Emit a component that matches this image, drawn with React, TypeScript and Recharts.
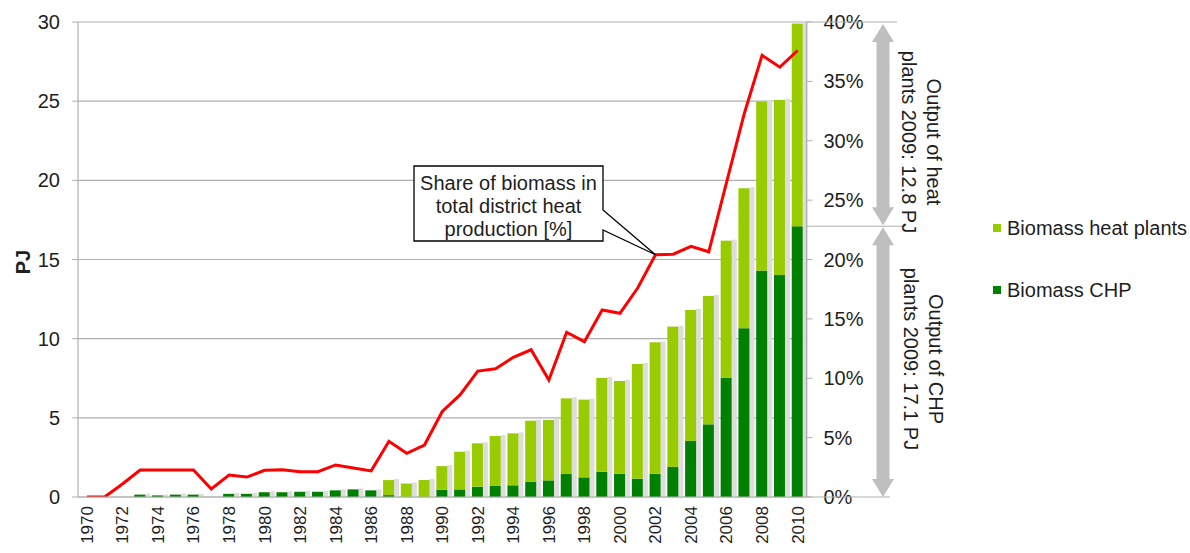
import React from 'react';
import { ComposedChart, Bar, Line, XAxis, YAxis, CartesianGrid } from 'recharts';

const years = [
  1970, 1971, 1972, 1973, 1974, 1975, 1976, 1977, 1978, 1979,
  1980, 1981, 1982, 1983, 1984, 1985, 1986, 1987, 1988, 1989,
  1990, 1991, 1992, 1993, 1994, 1995, 1996, 1997, 1998, 1999,
  2000, 2001, 2002, 2003, 2004, 2005, 2006, 2007, 2008, 2009, 2010,
];

// PJ
const chpOutput = [
  0, 0, 0, 0.15, 0.1, 0.15, 0.15, 0, 0.2, 0.2,
  0.3, 0.3, 0.33, 0.33, 0.42, 0.48, 0.42, 0.12, 0, 0,
  0.45, 0.48, 0.65, 0.7, 0.74, 0.95, 1.05, 1.45, 1.24, 1.6,
  1.47, 1.16, 1.47, 1.9, 3.54, 4.59, 7.54, 10.66, 14.3, 14.02, 17.1,
];

const heatPlantOutput = [
  0, 0, 0, 0, 0, 0, 0, 0, 0, 0,
  0, 0, 0, 0, 0, 0, 0, 0.95, 0.85, 1.07,
  1.5, 2.38, 2.74, 3.15, 3.28, 3.87, 3.81, 4.78, 4.91, 5.92,
  5.86, 7.24, 8.3, 8.86, 8.27, 8.11, 8.65, 8.84, 10.67, 11.06, 12.8,
];

// % of total district heat production
const biomassShare = [
  0, 0, 1.1, 2.27, 2.27, 2.27, 2.27, 0.67, 1.85, 1.68,
  2.25, 2.3, 2.13, 2.13, 2.7, 2.44, 2.2, 4.69, 3.68, 4.38,
  7.2, 8.6, 10.6, 10.8, 11.76, 12.4, 9.85, 13.87, 13.08, 15.75,
  15.47, 17.6, 20.4, 20.45, 21.1, 20.65, 26.5, 32.3, 37.2, 36.2, 37.6,
];

const pjTicks = [0, 5, 10, 15, 20, 25, 30];
const pctTicks = [0, 5, 10, 15, 20, 25, 30, 35, 40];

const data = years.map((y, i) => ({
  year: String(y),
  chp: chpOutput[i],
  heat: heatPlantOutput[i],
  share: biomassShare[i],
}));

const W = 1190;
const H = 553;
const TOP = 22;
const BOTTOM = 497;
const LEFT = 78;
const RIGHT = 806.5;
const RIGHT_AXIS_W = 60;
const FONT = '"Liberation Sans", Arial, sans-serif';
const TXT = '#1e1e1e';
const GRID = '#b0b0b0';

const pjY = (v: number) => BOTTOM - (v / 30) * (BOTTOM - TOP);
const pctY = (v: number) => BOTTOM - (v / 40) * (BOTTOM - TOP);
const catX = (i: number) => LEFT + (i + 0.5) * ((RIGHT - LEFT) / years.length);

const ShadowBar = (props: any) => {
  const { x, y, width, height, fill } = props;
  if (!height || height <= 0) return null;
  return (
    <g>
      <rect x={x + width} y={y - 1} width={5} height={height + 1} fill="#dddddd" />
      <rect x={x} y={y} width={width} height={height} fill={fill} />
    </g>
  );
};

const YearTick = (props: any) => {
  const { x, y, payload } = props;
  if (Number(payload.value) % 2 !== 0) return null;
  return (
    <text
      x={x}
      y={y}
      transform={`rotate(-90 ${x} ${y})`}
      textAnchor="end"
      dy="0.35em"
      fontSize={17}
      fontFamily={FONT}
      fill={TXT}
    >
      {payload.value}
    </text>
  );
};

const legendItems = [
  { label: 'Biomass heat plants', color: '#99cc00' },
  { label: 'Biomass CHP', color: '#008000' },
];

const LegendBox = () => (
  <div style={{ position: 'absolute', left: 993, top: 216, fontFamily: FONT, fontSize: 20, color: TXT }}>
    {legendItems.map((it) => (
      <div key={it.label} style={{ display: 'flex', alignItems: 'center', height: 24, marginBottom: 38, whiteSpace: 'nowrap' }}>
        <span style={{ width: 8, height: 8, background: it.color, marginRight: 6, display: 'inline-block' }} />
        {it.label}
      </div>
    ))}
  </div>
);

const DoubleArrow = ({ x, y1, y2 }: { x: number; y1: number; y2: number }) => {
  const hw = 11;
  const sw = 6.5;
  const hl = 18;
  const d = `M${x},${y1} L${x + hw},${y1 + hl} L${x + sw},${y1 + hl} L${x + sw},${y2 - hl} L${x + hw},${y2 - hl} L${x},${y2} L${x - hw},${y2 - hl} L${x - sw},${y2 - hl} L${x - sw},${y1 + hl} L${x - hw},${y1 + hl} Z`;
  return <path d={d} fill="#bfbfbf" />;
};

const Overlay = () => {
  const tipX = catX(years.indexOf(2002));
  const tipY = pctY(biomassShare[years.indexOf(2002)]);
  const split = pjY(chpOutput[chpOutput.length - 1]);
  const arrowX = 883;
  const bx1 = 414;
  const bx2 = 603;
  const by1 = 166;
  const by2 = 241;
  const callout = `M${bx1},${by1} H${bx2} V${by2 - 31} L${tipX},${tipY} L${bx2},${by2 - 11} V${by2} H${bx1} Z`;
  const rot = (x: number, y: number) => `rotate(90 ${x} ${y})`;
  const textProps = { fontFamily: FONT, fontSize: 20, fill: TXT, textAnchor: 'middle' as const, dy: '0.35em' };
  return (
    <svg width={W} height={H} style={{ position: 'absolute', left: 0, top: 0, pointerEvents: 'none' }}>
      <text x={23} y={262} transform={`rotate(-90 23 262)`} {...textProps} fontWeight="bold">
        PJ
      </text>
      <path d={callout} fill="#fff" stroke="#000" strokeWidth={1.3} />
      <text x={(bx1 + bx2) / 2} y={183} {...textProps}>Share of biomass in</text>
      <text x={(bx1 + bx2) / 2} y={206} {...textProps}>total district heat</text>
      <text x={(bx1 + bx2) / 2} y={229} {...textProps}>production [%]</text>

      <line x1={RIGHT} x2={897} y1={TOP} y2={TOP} stroke={GRID} strokeWidth={1.2} />
      <line x1={RIGHT} x2={905} y1={split} y2={split} stroke={GRID} strokeWidth={1.2} />
      <line x1={RIGHT} x2={890} y1={BOTTOM} y2={BOTTOM} stroke={GRID} strokeWidth={1.2} />
      <DoubleArrow x={arrowX} y1={TOP + 2} y2={split - 1} />
      <DoubleArrow x={arrowX} y1={split + 1} y2={BOTTOM} />

      <text x={934} y={142} transform={rot(934, 142)} {...textProps}>Output of heat</text>
      <text x={909} y={142} transform={rot(909, 142)} {...textProps}>plants 2009: 12.8 PJ</text>
      <text x={936} y={359} transform={rot(936, 359)} {...textProps}>Output of CHP</text>
      <text x={911} y={359} transform={rot(911, 359)} {...textProps}>plants 2009: 17.1 PJ</text>
    </svg>
  );
};

export default function App() {
  return (
    <div style={{ position: 'absolute', left: 0, top: 0, width: W, height: H, background: '#fff', overflow: 'hidden' }}>
      <ComposedChart
        width={W}
        height={H}
        data={data}
        margin={{ top: TOP, bottom: 0, left: 0, right: W - RIGHT - RIGHT_AXIS_W }}
        barGap={0}
      >
        <CartesianGrid yAxisId="pj" vertical={false} stroke={GRID} strokeWidth={1.2} />
        <XAxis
          dataKey="year"
          interval={0}
          height={H - BOTTOM}
          tick={<YearTick />}
          tickLine={false}
          tickSize={0}
          tickMargin={9}
          axisLine={{ stroke: GRID, strokeWidth: 1.2 }}
        />
        <YAxis
          yAxisId="pj"
          width={LEFT}
          domain={[0, 30]}
          ticks={pjTicks}
          tickSize={6}
          tickMargin={12}
          tickLine={{ stroke: GRID }}
          axisLine={{ stroke: GRID, strokeWidth: 1.2 }}
          tick={{ fontSize: 20, fill: TXT, fontFamily: FONT }}
          allowDataOverflow
        />
        <YAxis
          yAxisId="pct"
          orientation="right"
          width={RIGHT_AXIS_W}
          domain={[0, 40]}
          ticks={pctTicks}
          tickFormatter={(v) => `${v}%`}
          tickSize={6}
          tickMargin={11}
          tickLine={{ stroke: GRID }}
          axisLine={{ stroke: GRID, strokeWidth: 1.2 }}
          tick={{ fontSize: 20, fill: TXT, fontFamily: FONT }}
          allowDataOverflow
        />
        <Bar
          yAxisId="pj"
          dataKey="chp"
          name="Biomass CHP"
          stackId="a"
          fill="#008000"
          barSize={11}
          shape={<ShadowBar />}
          isAnimationActive={false}
        />
        <Bar
          yAxisId="pj"
          dataKey="heat"
          name="Biomass heat plants"
          stackId="a"
          fill="#99cc00"
          barSize={11}
          shape={<ShadowBar />}
          isAnimationActive={false}
        />
        <Line
          yAxisId="pct"
          dataKey="share"
          type="linear"
          stroke="#ff0000"
          strokeWidth={3}
          dot={false}
          isAnimationActive={false}
        />
      </ComposedChart>
      <LegendBox />
      <Overlay />
    </div>
  );
}
